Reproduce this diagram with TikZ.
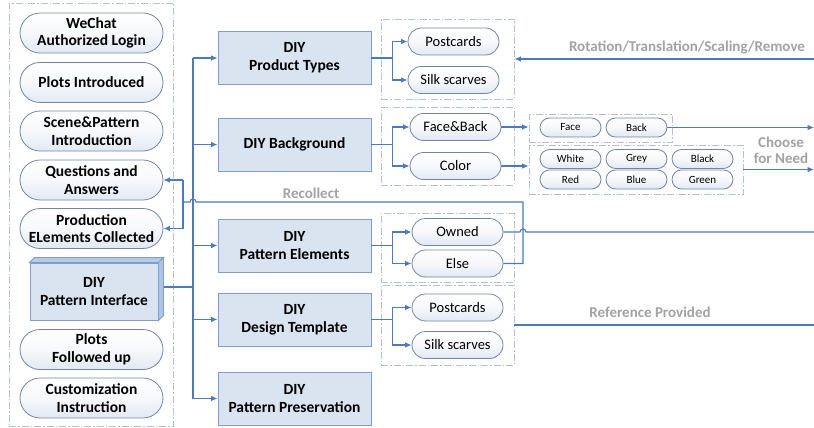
\documentclass[tikz,border=0pt]{standalone}
\usepackage{fontspec}
\setmainfont{Carlito}
\usetikzlibrary{shapes.misc,arrows.meta,calc}
\definecolor{lnblue}{HTML}{4A7BC0}
\definecolor{boxfill}{HTML}{DAE4F1}
\definecolor{boxedge}{HTML}{7F9ECB}
\definecolor{sidec}{HTML}{B7CBE6}
\definecolor{pilledge}{HTML}{7486A8}
\definecolor{pillblue}{HTML}{E2E8F3}
\definecolor{framec}{HTML}{B5C1D3}
\definecolor{labelc}{HTML}{A3A3A3}
\tikzset{
  ln/.style={draw=lnblue, line width=1.1pt},
  arr/.style={ln, -{Latex[length=6.5pt,width=5.5pt]}},
  pillbase/.style={rounded rectangle, draw=pilledge, line width=0.8pt,
    top color=white, bottom color=pillblue, middle color=white!70!pillblue,
    inner sep=0pt, align=center},
  lpill/.style={pillbase, minimum width=143pt, minimum height=40pt,
    font=\fontsize{15.5}{17.5}\selectfont\bfseries},
  mpill/.style={pillbase, minimum width=91pt, minimum height=27pt,
    font=\fontsize{14.5}{16}\selectfont},
  spill/.style={pillbase, minimum width=61pt, minimum height=19pt,
    font=\fontsize{11}{12}\selectfont},
  box/.style={rectangle, draw=boxedge, line width=0.9pt, fill=boxfill,
    minimum width=153pt, minimum height=53pt, inner sep=0pt, align=center,
    font=\fontsize{15.5}{18}\selectfont\bfseries},
  frame/.style={rectangle, draw=framec, line width=0.9pt,
    dash pattern=on 7pt off 2pt on 1.5pt off 2pt, inner sep=0pt},
  lbl/.style={text=labelc, font=\fontsize{15}{16}\selectfont\bfseries, align=center, inner sep=0pt}
}
\begin{document}
\begin{tikzpicture}[x=1pt,y=-1pt]
\useasboundingbox[fill=white] (0,0) rectangle (814,428);

% frames
\node[frame, minimum width=164pt, minimum height=423pt] (fleft) at (91,214.5) {};
\node[frame, minimum width=133pt, minimum height=80pt] (fp) at (447.5,59) {};
\node[frame, minimum width=133pt, minimum height=78pt] (fb) at (447.5,146) {};
\node[frame, minimum width=133pt, minimum height=69pt] (fe) at (447.5,247.5) {};
\node[frame, minimum width=133pt, minimum height=80pt] (fd) at (447.5,325) {};
\node[frame, minimum width=143pt, minimum height=28pt] (ffb) at (600.5,128) {};
\node[frame, minimum width=214pt, minimum height=49pt] (fcol) at (636,169.5) {};

% left column
\node[lpill] (wechat) at (91.5,33) {WeChat\\Authorized Login};
\node[lpill] (plots) at (91.5,82.5) {Plots Introduced};
\node[lpill] (scene) at (91.5,131) {Scene\&Pattern\\Introduction};
\node[lpill] (qa) at (91.5,180) {Questions and\\Answers};
\node[lpill] (prod) at (91.5,228.5) {Production\\ELements Collected};
\node[lpill] (follow) at (91.5,349.5) {Plots\\Followed up};
\node[lpill] (custom) at (91.5,398) {Customization\\Instruction};

% middle boxes
\node[box] (b1) at (294.5,58) {DIY\\Product Types};
\node[box] (b2) at (294.5,144.5) {DIY Background};
\node[box] (b3) at (294.5,245.5) {DIY\\Pattern Elements};
\node[box] (b4) at (294.5,319.5) {DIY\\Design Template};
\node[box] (b5) at (294.5,398.5) {DIY\\Pattern Preservation};

% mid pills
\node[mpill] (pc1) at (453.5,41.5) {Postcards};
\node[mpill] (sk1) at (453.5,80) {Silk scarves};
\node[mpill] (fab) at (455.5,127) {Face\&Back};
\node[mpill] (col) at (455.5,166) {Color};
\node[mpill] (own) at (457.5,232) {Owned};
\node[mpill] (els) at (457.5,263.5) {Else};
\node[mpill] (pc2) at (457.5,307.5) {Postcards};
\node[mpill] (sk2) at (457.5,345) {Silk scarves};

% small pills
\node[spill] (face) at (570.5,127.5) {Face};
\node[spill] (back) at (636.5,127.5) {Back};
\node[spill] (white) at (570.5,159) {White};
\node[spill] (grey) at (636.5,159) {Grey};
\node[spill] (black) at (702.5,159) {Black};
\node[spill] (red) at (570.5,179.5) {Red};
\node[spill] (blue) at (636.5,179.5) {Blue};
\node[spill] (green) at (702.5,179.5) {Green};

% labels
\node[lbl] (lrot) at (687,47) {Rotation/Translation/Scaling/Remove};
\node[lbl] (lrec) at (311,193) {Recollect};
\node[lbl] (lref) at (650,312) {Reference Provided};
\node[lbl] (lch) at (781,150) {Choose\\for Need};

% helper coordinates
\coordinate (tr) at (193,0);
\coordinate (redge) at (814,0);
\coordinate (ij) at (193,287);
\coordinate (lx) at (523,202);
\coordinate (cx) at (183,202);

% interface (3D box)
\node[box, minimum width=128pt, minimum height=57pt] (iface) at (94,291.5) {DIY\\Pattern Interface};
\draw[ln] (iface.east |- ij) -- (ij);
\draw[draw=boxedge, line width=0.9pt, fill=sidec] (iface.north west) -- ++(5,-5) -- ($(iface.north east)+(5,-5)$) -- (iface.north east) -- cycle;
\draw[draw=boxedge, line width=0.9pt, fill=sidec!85!boxedge] (iface.north east) -- ++(5,-5) -- ($(iface.south east)+(5,-5)$) -- (iface.south east) -- cycle;

% trunk
\draw[ln] (b1.west -| tr) -- (b5.west -| tr);
\foreach \b in {b1,b2,b3,b4,b5} {\draw[arr] (\b.west -| tr) -- (\b.west);}

% branches
\foreach \b/\p/\q in {b1/pc1/sk1, b2/fab/col, b3/own/els, b4/pc2/sk2} {
  \draw[ln] (\b.east) -- ++(21,0) coordinate (j\b);
  \draw[ln] (j\b |- \p.west) -- (j\b |- \q.west);
  \draw[arr] (j\b |- \p.west) -- (\p.west);
  \draw[arr] (j\b |- \q.west) -- (\q.west);
}

% to right frames
\draw[arr] (fab.east) -- (fab.east -| ffb.west);
\draw[arr] (col.east) -- (col.east -| fcol.west);
\draw[arr] (back.east) -- (back.east -| redge);
\draw[arr] (fcol.east) -- (fcol.east -| redge);
\draw[arr] (fp.east -| redge) -- (fp.east);
\draw[ln] (fd.east) -- (fd.east -| redge);

% recollect loop
\draw[ln] (els.east) -- (els.east -| lx) -- (lx) -- ($(tr |- lx)+(3,0)$) arc(0:-180:3) -- (cx);
\draw[ln] (qa.east -| cx) -- (prod.east -| cx);
\draw[arr] (qa.east -| cx) -- (qa.east);
\draw[arr] (prod.east -| cx) -- (prod.east);

% owned line with hop
\draw[ln] (own.east) -- ($(own.east -| lx)+(-3,0)$) arc(180:360:3) -- (own.east -| redge);
\end{tikzpicture}
\end{document}
